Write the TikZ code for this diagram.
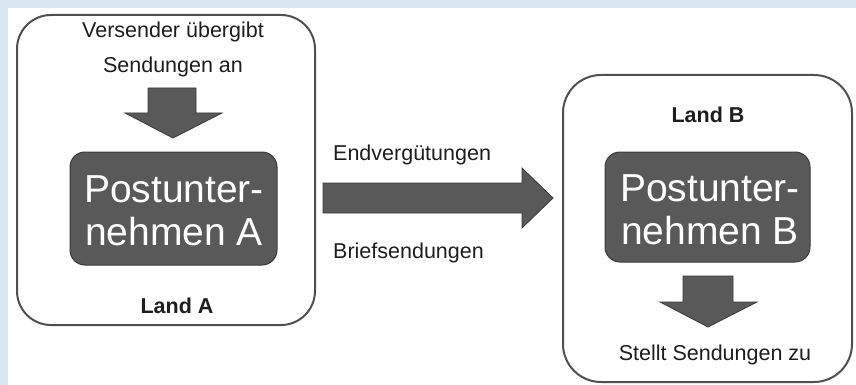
\documentclass[tikz,border=0pt]{standalone}
\usepackage{fontspec}
\setmainfont{Liberation Sans}
\definecolor{bgblue}{HTML}{DAE8F1}
\definecolor{frame}{HTML}{505050}
\definecolor{boxfill}{HTML}{595959}
\definecolor{boxline}{HTML}{3A3A3A}
\definecolor{txt}{HTML}{1E1E1E}
\begin{document}
\begin{tikzpicture}[x=1pt,y=-1pt,
  land/.style={draw=frame,line width=2pt,rounded corners=34pt,fill=white},
  firm/.style={draw=boxline,line width=1pt,rounded corners=15pt,fill=boxfill},
  bigarrow/.style={draw=boxline,line width=0.8pt,fill=boxfill},
  small/.style={anchor=base,text=txt,inner sep=0pt,font=\fontsize{21.5}{26}\selectfont},
  smallbold/.style={small,font=\fontsize{21.5}{26}\selectfont\bfseries},
  big/.style={anchor=base,text=white,inner sep=0pt,font=\fontsize{39}{43}\selectfont}]
\useasboundingbox (0,0) rectangle (856,385);
\fill[bgblue] (0,0) rectangle (856,385);
\fill[white] (8,8) rectangle (856,385);
% Land A
\draw[land] (17,15) rectangle (315,325);
\draw[firm] (70,152) rectangle (277,265);
\node[small] (va1) at (173,38) {Versender übergibt};
\node[small] (va2) at (173,73) {Sendungen an};
\draw[bigarrow] (148,88) -- (196,88) -- (196,113) -- (222,113) -- (173,138) -- (125,113) -- (148,113) -- cycle;
\node[big] (pa1) at (174,202) {Postunter-};
\node[big] (pa2) at (174,245) {nehmen A};
\node[smallbold] (la) at (177,313) {Land A};
% middle arrow
\draw[bigarrow] (323,183) -- (522,183) -- (522,168) -- (553,198) -- (522,228) -- (522,213) -- (323,213) -- cycle;
\node[small,anchor=base west] (ev) at (333,160) {Endvergütungen};
\node[small,anchor=base west] (bs) at (333,258) {Briefsendungen};
% Land B
\draw[land,rounded corners=38pt] (563,75) rectangle (852,382);
\node[smallbold] (lb) at (708,122) {Land B};
\draw[firm] (605,152) rectangle (810,262);
\node[big] (pb1) at (710,201) {Postunter-};
\node[big] (pb2) at (710,244) {nehmen B};
\draw[bigarrow] (683,276) -- (733,276) -- (733,302) -- (757,302) -- (708,327) -- (660,302) -- (683,302) -- cycle;
\node[small] (sz) at (715,360) {Stellt Sendungen zu};
\end{tikzpicture}
\end{document}
